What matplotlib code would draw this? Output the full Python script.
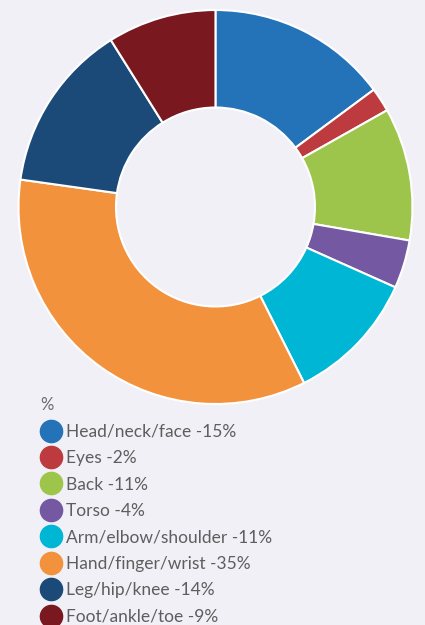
import matplotlib
matplotlib.use("Agg")
from matplotlib import pyplot as plt
from matplotlib.lines import Line2D

labels = ["Head/neck/face", "Eyes", "Back", "Torso", "Arm/elbow/shoulder",
          "Hand/finger/wrist", "Leg/hip/knee", "Foot/ankle/toe"]
values = [15, 2, 11, 4, 11, 35, 14, 9]
colors = ["#2473b9", "#bd3b3f", "#9dc54b", "#7558a2", "#00b6d5",
          "#f3923d", "#1c4a78", "#7a1820"]

bg = "#f1f0f6"
plt.rcParams["font.family"] = ["Lato", "DejaVu Sans"]

fig = plt.figure(figsize=(4.25, 6.25), dpi=100, facecolor=bg)
ax = fig.add_axes([0.0435, 0.3536, 0.927, 0.6304])
ax.set_facecolor(bg)
ax.pie(values, colors=colors, startangle=90, counterclock=False,
       radius=1, wedgeprops=dict(width=0.495, edgecolor="white", linewidth=1.5))
ax.set_xlim(-1.0, 1.0)
ax.set_ylim(-1.0, 1.0)
ax.set_aspect("equal")
ax.axis("off")

handles = [Line2D([], [], marker="o", linestyle="", markersize=16,
                  markerfacecolor=c, markeredgecolor=c) for c in colors]
names = [f"{l} -{v}%" for l, v in zip(labels, values)]
leg = fig.legend(handles, names, title="%", loc="upper left",
                 bbox_to_anchor=(0.078, 0.3755), frameon=False,
                 fontsize=12.5, title_fontsize=12, labelcolor="#5e5e5e",
                 handletextpad=0.3, labelspacing=0.6, handlelength=1.2,
                 borderaxespad=0)
leg.get_title().set_color("#6a6a6a")
leg._legend_box.align = "left"

fig.savefig("out.png", dpi=100, facecolor=bg)
